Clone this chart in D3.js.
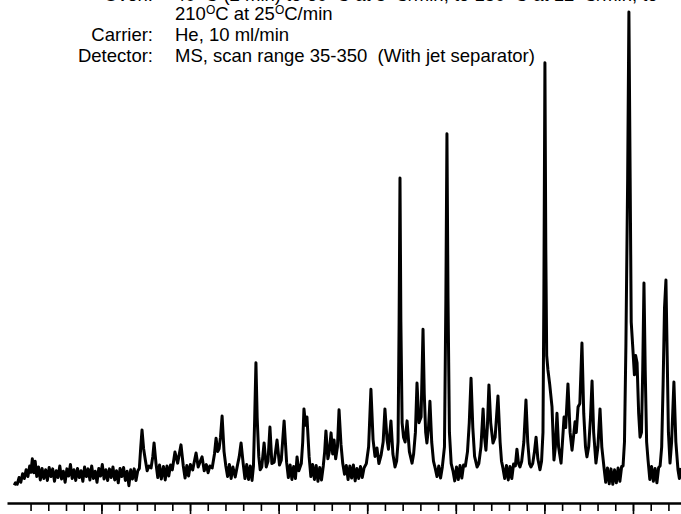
<!DOCTYPE html>
<html>
<head>
<meta charset="utf-8">
<script src="https://cdn.jsdelivr.net/npm/d3@7"></script>
<style>
  body { margin: 0; background: #fff; }
  svg { display: block; font-family: "Liberation Sans", Arial, sans-serif; }
</style>
</head>
<body>
<svg width="681" height="514"></svg>
<script>
// run conditions, "^" marks a superscript O (degree)
const conditionLabels = ['Oven:', '', 'Carrier:', 'Detector:'];
const conditionValues = [
    '40^C (2 min) to 60^C at 5^C/min, to 150^C at 12^C/min, to',
    '210^C at 25^C/min',
    'He, 10 ml/min',
    'MS, scan range 35-350  (With jet separator)'
];

// retention time axis (min)
const minorTicks = [1, 2, 3, 4, 5, 6, 7, 8, 9, 10, 11, 12, 13, 14, 15, 16, 17, 18, 19,
    20, 21, 22, 23, 24, 25, 26, 27, 28, 29, 30, 31, 32, 33, 34, 35, 36, 37];
const majorTicks = [5, 10, 15, 20, 25, 30, 35];

// [retention time (min), abundance (%)]
const chromatogram = [
    [0.08,1.0],[0.15,1.5],[0.25,1.2],[0.35,2.6],[0.45,1.6],[0.55,3.4],[0.65,2.4],[0.75,4.2],[0.85,2.8],[0.95,5.0],
    [1.02,3.7],[1.1,6.5],[1.18,3.6],[1.26,6.0],[1.35,2.8],[1.45,4.8],[1.55,2.1],[1.65,4.5],[1.75,2.4],[1.85,4.2],
    [1.95,2.0],[2.05,4.7],[2.15,2.8],[2.25,4.4],[2.35,1.8],[2.45,4.0],[2.55,2.6],[2.65,5.0],[2.75,2.3],[2.85,3.9],
    [2.95,1.6],[3.05,4.4],[3.15,2.9],[3.25,5.3],[3.35,2.4],[3.45,4.2],[3.55,2.0],[3.65,4.5],[3.75,2.6],[3.85,4.0],
    [3.95,1.8],[4.05,4.8],[4.15,2.8],[4.25,4.4],[4.35,2.1],[4.45,5.0],[4.55,2.4],[4.65,3.9],[4.75,1.6],[4.85,4.5],
    [4.95,2.9],[5.05,5.3],[5.15,2.3],[5.25,4.2],[5.35,2.0],[5.45,4.4],[5.55,2.6],[5.65,4.8],[5.75,2.1],[5.85,4.0],
    [5.95,1.5],[6.05,4.5],[6.15,2.8],[6.25,4.7],[6.35,2.0],[6.45,3.9],[6.55,0.9],[6.65,4.2],[6.75,2.3],[6.85,4.4],
    [6.95,2.0],[7.05,4.0],
    [7.14,4.5],[7.22,9],[7.29,12.5],[7.38,8.6],[7.48,6.2],[7.58,4.0],[7.68,5.0],[7.8,4.6],[7.9,7],[7.97,9.8],
    [8.08,5.5],[8.18,2.6],[8.28,5.2],[8.38,2.3],[8.5,4.9],[8.6,2.1],[8.7,5.0],[8.8,2.9],[8.9,5.2],[9.0,4.2],
    [9.15,7.9],[9.3,5.6],[9.49,9.4],[9.62,5.0],[9.72,2.5],[9.82,5.1],[9.92,2.9],[10.02,5.3],[10.15,4.2],[10.34,7.7],
    [10.46,4.8],[10.56,5.8],[10.68,6.9],[10.8,4.0],[10.92,5.3],[11.02,3.6],[11.12,5.0],[11.25,4.6],[11.38,7.5],[11.47,10.8],
    [11.56,8.0],[11.64,8.6],[11.72,11],[11.81,15.4],[11.92,8.0],[12.02,5.0],[12.12,2.8],[12.22,5.3],[12.32,2.4],[12.42,4.8],
    [12.55,2.7],[12.68,5.2],[12.78,7],[12.88,9.8],[13.0,5.5],[13.1,2.4],[13.2,5.3],[13.3,2.2],[13.4,5.0],[13.5,2.0],
    [13.58,5],[13.65,15],[13.72,26.5],[13.79,15],[13.88,7],[13.96,4.2],[14.05,4.8],[14.18,9.8],[14.3,4.8],[14.4,6.0],
    [14.51,13.1],[14.62,5.5],[14.75,5.8],[14.91,10.4],[15.05,5.2],[15.15,6.2],[15.31,14.4],[15.45,5.8],[15.55,2.6],[15.65,5.2],
    [15.75,2.2],[15.85,4.9],[15.95,2.4],[16.04,6.9],[16.14,4.0],[16.28,5.5],[16.36,10],[16.43,16.9],[16.52,13.5],[16.6,15.2],
    [16.72,7.0],[16.82,2.8],[16.92,5.3],[17.02,2.2],[17.12,5.1],[17.22,1.8],[17.32,4.7],[17.42,2.1],[17.52,5.0],[17.6,8],
    [17.67,12.3],[17.78,6.5],[17.86,8.0],[17.96,11.9],[18.05,7.5],[18.13,10.4],[18.22,6.5],[18.32,9],[18.41,16.7],[18.52,9.5],
    [18.62,5.5],[18.72,3.3],[18.82,5.1],[18.92,2.2],[19.02,5.0],[19.12,2.5],[19.22,5.2],[19.32,1.9],[19.42,4.5],[19.52,2.4],
    [19.62,4.9],[19.72,2.6],[19.82,4.6],[19.95,5.5],[20.08,9.0],[20.21,21.0],[20.33,10.5],[20.44,7.0],[20.55,8.75],[20.66,5.5],
    [20.78,7.2],[20.9,10.0],[21.0,16.9],[21.12,10.5],[21.2,8.5],[21.34,14.4],[21.45,7.5],[21.57,4.8],[21.66,6],[21.74,10],
    [21.8,35],[21.85,65],[21.9,35],[21.97,14],[22.05,11],[22.14,10],[22.25,14.4],[22.38,8.0],[22.53,5.6],[22.62,7.5],
    [22.72,12],[22.81,22.3],[22.92,14],[23.04,15.2],[23.1,25],[23.15,33.5],[23.22,20],[23.3,12],[23.37,9.8],[23.46,13],
    [23.54,18.5],[23.64,10],[23.74,6.0],[23.84,4.5],[23.94,2.8],[24.04,5.0],[24.14,2.5],[24.24,4.8],[24.36,9],[24.44,40],
    [24.5,74.2],[24.56,40],[24.64,12],[24.74,5.5],[24.84,4.0],[24.94,1.9],[25.04,4.8],[25.14,2.2],[25.24,5.1],[25.34,2.5],
    [25.44,5.2],[25.54,5.0],[25.66,8],[25.76,14],[25.86,23.3],[25.96,13],[26.06,7],[26.2,4.8],[26.3,5.5],[26.42,9],
    [26.54,16.9],[26.62,11],[26.7,8.3],[26.78,13],[26.87,21.9],[26.97,14],[27.1,9.8],[27.22,11],[27.38,19.6],[27.5,10],
    [27.58,6],[27.66,4.6],[27.76,2.4],[27.86,5.1],[27.96,2.1],[28.06,4.9],[28.16,2.4],[28.26,5.4],[28.36,5.0],[28.45,8.5],
    [28.54,5.5],[28.62,4.8],[28.72,6],[28.84,10],[28.96,18.75],[29.06,10],[29.16,5.5],[29.24,4.8],[29.34,5.5],[29.44,8],
    [29.53,11.0],[29.63,6.5],[29.75,4.2],[29.84,6],[29.92,12],[29.97,40],[30.03,89],[30.08,50],[30.13,28],[30.2,25],
    [30.3,22],[30.43,17.3],[30.54,6.25],[30.62,9],[30.71,16.0],[30.8,9],[30.94,5.6],[31.02,10],[31.11,15.2],[31.2,13],
    [31.33,22.1],[31.45,12],[31.56,8.3],[31.64,11],[31.73,14.2],[31.8,12],[31.9,17.3],[32.0,18],[32.12,30.6],[32.22,16],
    [32.32,9],[32.4,6.9],[32.5,9],[32.6,15],[32.69,22.7],[32.78,12],[32.91,5.6],[33.02,9],[33.14,16.9],[33.24,9],
    [33.36,4.8],[33.46,1.6],[33.56,4.6],[33.66,1.3],[33.76,4.4],[33.86,1.2],[33.96,4.2],[34.06,1.5],[34.16,4.6],[34.26,1.8],
    [34.36,4.9],[34.44,5],[34.52,10],[34.6,30],[34.7,65],[34.77,99.6],[34.84,65],[34.9,35],[34.99,29.6],[35.08,24],
    [35.15,28],[35.23,26.5],[35.32,16],[35.4,11.0],[35.48,12],[35.55,25],[35.62,43.1],[35.69,25],[35.77,10],[35.85,6.25],
    [35.95,2.2],[36.05,4.9],[36.15,1.8],[36.25,4.5],[36.35,1.5],[36.45,4.7],[36.53,5],[36.62,9],[36.7,22],[36.78,38],
    [36.86,43.75],[36.93,28],[37.0,12],[37.09,5.6],[37.18,10],[37.31,22.5],[37.42,10],[37.54,4.2],[37.62,2.4],[37.71,4.6]
];

const svg = d3.select('svg');

const xScale = d3.scaleLinear()
    .domain([-0.33, 37.71])
    .range([7, 681]);

const yScale = d3.scaleLinear()
    .domain([0, 100])
    .range([490, 10]);

// header text block
const header = svg.append('g')
    .attr('font-size', 18.5)
    .attr('fill', '#000');

const lineY = [1, 20, 41, 62];

header.selectAll('text.label')
    .data(conditionLabels)
    .enter()
        .append('text')
        .attr('class', 'label')
        .attr('x', 153)
        .attr('y', (d, i) => lineY[i])
        .attr('text-anchor', 'end')
        .text(d => d);

conditionValues.forEach((v, i) => {
    const t = header.append('text')
        .attr('x', 175)
        .attr('y', lineY[i])
        .style('white-space', 'pre');
    v.split('^').forEach((part, j) => {
        if (j > 0) {
            t.append('tspan').attr('dy', -6).attr('font-size', 12).text('O');
            t.append('tspan').attr('dy', 6).attr('font-size', 18.5).text(part);
        } else {
            t.append('tspan').text(part);
        }
    });
});

// trace
const line = d3.line()
    .x(d => xScale(d[0]))
    .y(d => yScale(d[1]));

svg.append('path')
    .datum(chromatogram)
    .attr('d', line)
    .attr('fill', 'none')
    .attr('stroke', '#000')
    .attr('stroke-width', 3)
    .attr('stroke-linejoin', 'round');

// time axis: minor + major ticks, no labels
const axisG = svg.append('g')
    .attr('transform', 'translate(0, 503)');

axisG.append('g')
    .call(d3.axisBottom(xScale).tickValues(minorTicks).tickSize(8).tickSizeOuter(0).tickFormat(''))
    .call(g => g.select('.domain').attr('stroke-width', 2.5))
    .call(g => g.selectAll('.tick line').attr('stroke-width', 1.6));

axisG.append('g')
    .call(d3.axisBottom(xScale).tickValues(majorTicks).tickSize(11).tickFormat(''))
    .call(g => g.select('.domain').remove())
    .call(g => g.selectAll('.tick line').attr('stroke-width', 1.6));
</script>
</body>
</html>
